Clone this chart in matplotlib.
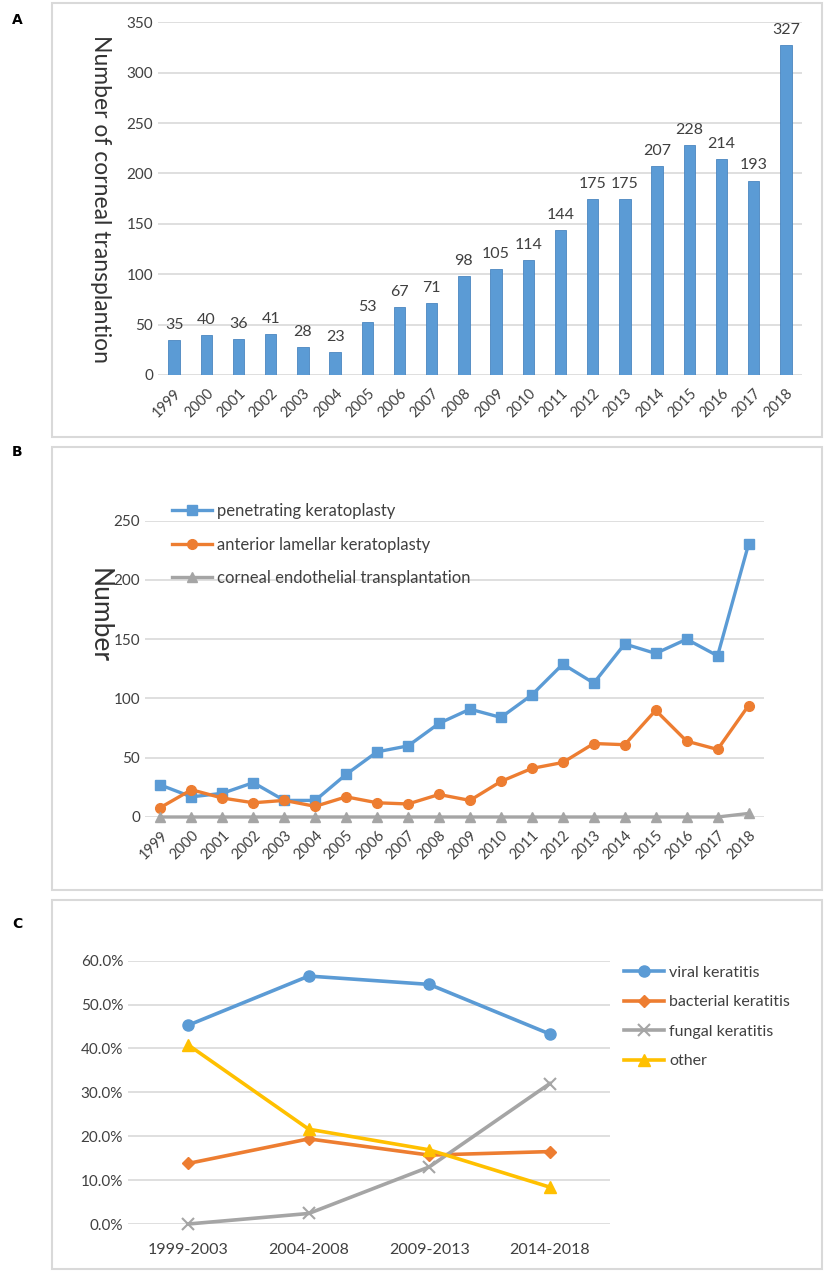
import numpy as np
import matplotlib
matplotlib.use('Agg')
import matplotlib.pyplot as plt
from matplotlib.patches import Rectangle

plt.rcParams['font.family'] = ['Lato', 'DejaVu Sans']

# panel A data
years = [str(y) for y in range(1999, 2019)]
total = [35, 40, 36, 41, 28, 23, 53, 67, 71, 98, 105, 114, 144, 175, 175, 207, 228, 214, 193, 327]

# panel B data
pk = [27, 17, 20, 29, 14, 14, 36, 55, 60, 79, 91, 84, 103, 129, 113, 146, 138, 150, 136, 230]
alk = [8, 23, 16, 12, 14, 9, 17, 12, 11, 19, 14, 30, 41, 46, 62, 61, 90, 64, 57, 94]
cet = [0, 0, 0, 0, 0, 0, 0, 0, 0, 0, 0, 0, 0, 0, 0, 0, 0, 0, 0, 3]

# panel C data
periods = ['1999-2003', '2004-2008', '2009-2013', '2014-2018']
viral = [45.3, 56.5, 54.6, 43.3]
bacterial = [13.8, 19.4, 15.7, 16.5]
fungal = [0.0, 2.4, 13.0, 32.0]
other = [40.8, 21.6, 16.9, 8.4]

BLUE = '#5B9BD5'
ORANGE = '#ED7D31'
GRAY = '#A5A5A5'
YELLOW = '#FFC000'
GRID = '#D9D9D9'
TXT = '#404040'

W, H = 825, 1272
fig = plt.figure(figsize=(W/100, H/100), dpi=100)


def ax_px(left, top, right, bottom):
    return fig.add_axes([left/W, 1-bottom/H, (right-left)/W, (bottom-top)/H])


def box(left, top, right, bottom):
    fig.patches.append(Rectangle((left/W, 1-bottom/H), (right-left)/W, (bottom-top)/H,
                                 transform=fig.transFigure, fill=False,
                                 edgecolor=GRID, lw=1.5))


def style(ax):
    for s in ax.spines.values():
        s.set_visible(False)
    ax.yaxis.grid(True, color=GRID, lw=1.2)
    ax.set_axisbelow(True)
    ax.tick_params(length=0, colors=TXT, labelsize=11)


box(52, 3, 822, 437)
box(52, 447, 822, 890)
box(52, 900, 822, 1269)
for lab, yy in [('A', 20), ('B', 452), ('C', 924)]:
    fig.text(12/W, 1-yy/H, lab, fontsize=10, fontweight='bold', family='DejaVu Sans', va='center')

# ---- A
ax = ax_px(158, 22.3, 802, 375)
style(ax)
x = np.arange(len(years))
bars = ax.bar(x, total, 0.36, color=BLUE, edgecolor='#4A86C0', lw=0.6)
for r in bars:
    ax.text(r.get_x() + r.get_width()/2., r.get_height() + 8, '%d' % int(r.get_height()),
            ha='center', va='bottom', fontsize=11.5, color=TXT)
ax.set_xlim(-0.5, 19.5)
ax.set_ylim(0, 350)
ax.set_yticks(range(0, 351, 50))
ax.set_xticks(x)
ax.set_xticklabels(years, rotation=45, ha='right', rotation_mode='anchor', fontsize=10.5)
ax.tick_params(axis='x', pad=8)
ax.set_ylabel('Number of corneal transplantion', fontsize=16.5, color='#333333', rotation=270)
ax.yaxis.set_label_coords(-0.105, 0.5)

# ---- B
ax = ax_px(145, 520.7, 764, 817)
style(ax)
ax.plot(x, pk, color=BLUE, lw=2.4, marker='s', ms=7, label='penetrating keratoplasty')
ax.plot(x, alk, color=ORANGE, lw=2.4, marker='o', ms=7, label='anterior lamellar keratoplasty')
ax.plot(x, cet, color=GRAY, lw=2.4, marker='^', ms=7, label='corneal endothelial transplantation',
        clip_on=False)
ax.set_xlim(-0.5, 19.5)
ax.set_ylim(0, 250)
ax.set_yticks(range(0, 251, 50))
ax.set_xticks(x)
ax.set_xticklabels(years, rotation=45, ha='right', rotation_mode='anchor', fontsize=10.5)
ax.tick_params(axis='x', pad=8)
ax.set_ylabel('Number', fontsize=19, color='#333333', rotation=270)
ax.yaxis.set_label_coords(-0.095, 0.68)
leg = ax.legend(loc='upper left', bbox_to_anchor=(0.02, 1.11), frameon=False, fontsize=12,
                handlelength=2.4, labelspacing=1.05, handletextpad=0.3)
for t in leg.get_texts():
    t.set_color(TXT)

# ---- C
ax = ax_px(128, 960.7, 610, 1224)
style(ax)
xc = np.arange(len(periods))
ax.plot(xc, viral, color=BLUE, lw=2.6, marker='o', ms=8, label='viral keratitis')
ax.plot(xc, bacterial, color=ORANGE, lw=2.6, marker='D', ms=6.5, label='bacterial keratitis')
ax.plot(xc, fungal, color=GRAY, lw=2.6, marker='x', ms=8, mew=1.5, label='fungal keratitis',
        clip_on=False)
ax.plot(xc, other, color=YELLOW, lw=2.6, marker='^', ms=8, label='other')
ax.set_xlim(-0.5, 3.5)
ax.set_ylim(0, 60)
ax.set_yticks(range(0, 61, 10))
ax.set_yticklabels(['%.1f%%' % v for v in range(0, 61, 10)])
ax.set_xticks(xc)
ax.set_xticklabels(periods, fontsize=11.5)
ax.tick_params(axis='x', pad=14)
leg = ax.legend(loc='upper left', bbox_to_anchor=(1.0, 1.035), frameon=False, fontsize=11.5,
                handlelength=2.5, labelspacing=0.95, handletextpad=0.3)
for t in leg.get_texts():
    t.set_color(TXT)

plt.savefig('out.png', dpi=100)
